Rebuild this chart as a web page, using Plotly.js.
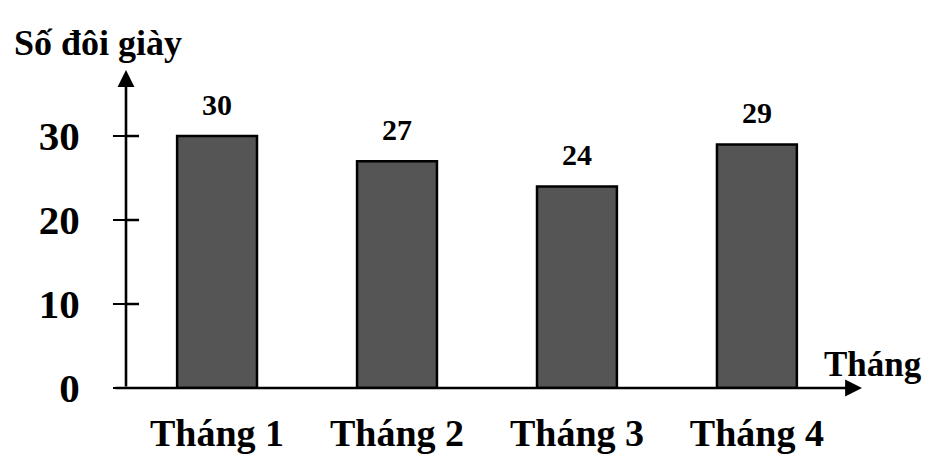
<!DOCTYPE html>
<html>
<head>
<meta charset="utf-8">
<script src="https://cdn.plot.ly/plotly-3.0.1.min.js"></script>
<style>
  html, body { margin:0; padding:0; background:#fff; }
  #chartdiv { width:937px; height:467px; }
</style>
</head>
<body>
<div id="chartdiv"></div>
<script>
// data
const months = ['Tháng 1', 'Tháng 2', 'Tháng 3', 'Tháng 4'];
const pairs = [30, 27, 24, 29];
const yTicks = [0, 10, 20, 30];

const font = 'Liberation Serif, Times New Roman, serif';
const xRange = [-0.506, 3.584];
const yRange = [0, 37.86];

const trace = {
  x: months.map((m, i) => i),
  y: pairs,
  type: 'bar',
  width: 0.444,
  marker: { color: '#555555', line: { color: '#000', width: 2.5 } },
  hoverinfo: 'skip',
};

// value labels above the bars
const annotations = pairs.map((v, i) => ({
  x: i, y: v, xref: 'x', yref: 'y',
  text: String(v), showarrow: false,
  yanchor: 'bottom', yshift: 13,
  font: { family: font, size: 30, color: '#000', weight: 'bold' },
}));

// axis arrows (heads must stay inside the axis ranges)
annotations.push({
  x: xRange[0], y: yRange[1], ax: xRange[0], ay: 0,
  xref: 'x', yref: 'y', axref: 'x', ayref: 'y',
  text: '', showarrow: true, arrowhead: 2, arrowsize: 1.3, arrowwidth: 2.6,
  arrowcolor: '#000', standoff: 0, startstandoff: 0,
});
annotations.push({
  x: xRange[1], y: 0, ax: xRange[0] - 0.067, ay: 0,
  xref: 'x', yref: 'y', axref: 'x', ayref: 'y',
  text: '', showarrow: true, arrowhead: 2, arrowsize: 1.3, arrowwidth: 2.6,
  arrowcolor: '#000', standoff: 0, startstandoff: 0,
});
// x axis name
annotations.push({
  x: 0.945, y: 2.85, xref: 'paper', yref: 'y',
  text: 'Tháng', showarrow: false, xanchor: 'left', yanchor: 'middle',
  font: { family: font, size: 35, color: '#000', weight: 'bold' },
});

// inner half of the crossing tick marks
const shapes = yTicks.slice(1).map(t => ({
  type: 'line', xref: 'paper', yref: 'y',
  x0: 0, x1: 13 / 734, y0: t, y1: t,
  line: { color: '#000', width: 2.5 },
}));

const layout = {
  width: 937, height: 467,
  margin: { l: 126, r: 75, t: 70, b: 79 },
  paper_bgcolor: '#fff',
  plot_bgcolor: '#fff',
  showlegend: false,
  title: {
    text: 'Số đôi giày',
    x: 14 / 937, xanchor: 'left', xref: 'container',
    y: 1 - 42 / 467, yanchor: 'middle', yref: 'container',
    font: { family: font, size: 36, color: '#000', weight: 'bold' },
  },
  xaxis: {
    range: xRange,
    tickvals: [0, 1, 2, 3],
    ticktext: months,
    ticks: '',
    showline: false, zeroline: false, showgrid: false,
    ticklabelstandoff: 19,
    tickfont: { family: font, size: 38, color: '#000', weight: 'bold' },
  },
  yaxis: {
    range: yRange,
    tickvals: yTicks,
    ticks: 'outside', ticklen: 12, tickwidth: 2.5, tickcolor: '#000',
    showline: false, zeroline: false, showgrid: false,
    ticklabelstandoff: 25,
    tickfont: { family: font, size: 41, color: '#000', weight: 'bold' },
  },
  annotations: annotations,
  shapes: shapes,
};

Plotly.newPlot('chartdiv', [trace], layout, { displayModeBar: false, staticPlot: true });
</script>
</body>
</html>
